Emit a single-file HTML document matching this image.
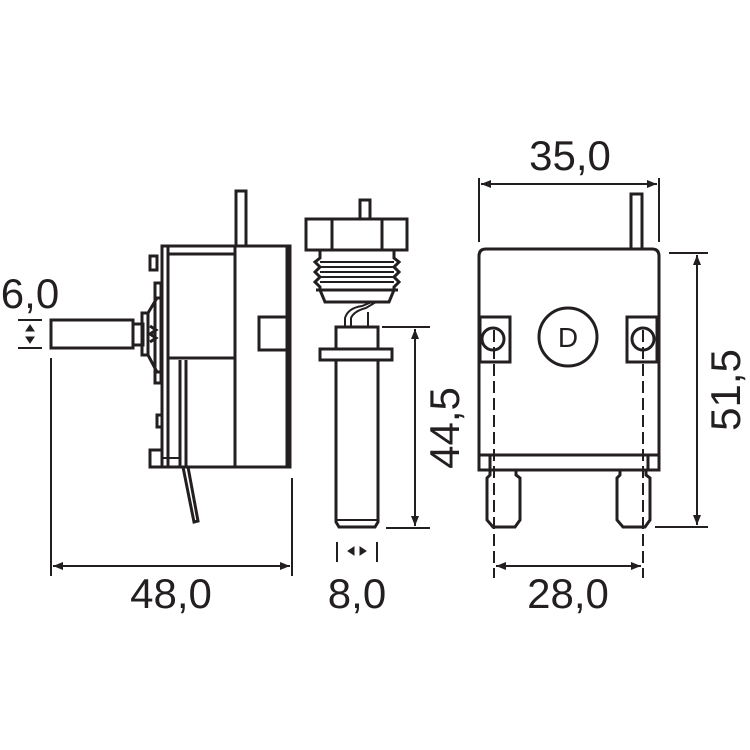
<!DOCTYPE html>
<html><head><meta charset="utf-8"><style>
html,body{margin:0;padding:0;background:#fff}
svg{display:block}
text{font-family:"Liberation Sans",sans-serif;font-size:42px;fill:#231f20}
</style></head><body>
<svg width="750" height="750" viewBox="0 0 750 750" xmlns="http://www.w3.org/2000/svg">
<defs>
<marker id="a" viewBox="0 0 10 10" refX="10" refY="5" markerWidth="10" markerHeight="10" markerUnits="userSpaceOnUse" orient="auto-start-reverse"><path d="M0,1 L10,5 L0,9 Z" fill="#231f20"/></marker>
</defs>
<g fill="none" stroke="#231f20" stroke-width="3" stroke-linejoin="miter">
<!-- LEFT VIEW -->
<rect x="236" y="191" width="10" height="55"/>
<rect x="162" y="246" width="128" height="221"/>
<line x1="287" y1="246" x2="287" y2="467"/>
<line x1="235" y1="246" x2="235" y2="467"/>
<line x1="168" y1="246" x2="168" y2="467"/>
<line x1="168" y1="254" x2="235" y2="254"/>
<line x1="168" y1="358" x2="235" y2="358"/>
<line x1="180" y1="360" x2="180" y2="467"/>
<line x1="186" y1="360" x2="186" y2="467"/>
<rect x="259" y="317" width="28" height="33"/>
<rect x="51" y="320" width="82" height="28"/>
<rect x="133" y="324" width="10" height="21"/>
<rect x="142" y="313" width="6" height="42"/>
<path d="M148,313 L157,298 L160,298 M148,355 L157,372 L160,372"/>
<rect x="155" y="283" width="6" height="100"/>
<rect x="150" y="256" width="7" height="14"/>
<rect x="150" y="450" width="12" height="17"/>
<line x1="162" y1="458" x2="180" y2="458" stroke-width="2"/>
<rect x="157" y="415" width="5" height="12"/>
<path d="M150,326 L156,330 L150,334 L156,338 L150,342" stroke-width="3"/>
<path d="M183,467 L194,522 L198,521 L188,467"/>
<line x1="51" y1="358" x2="51" y2="576" stroke-width="2"/>
<line x1="292" y1="478" x2="292" y2="576" stroke-width="2"/>
<line x1="53" y1="566" x2="290" y2="566" stroke-width="2" marker-start="url(#a)" marker-end="url(#a)"/>
<line x1="18" y1="320" x2="42" y2="320" stroke-width="2"/>
<line x1="18" y1="348" x2="42" y2="348" stroke-width="2"/>
<path d="M26,331 L30,325 L34,331 Z M26,337 L30,343 L34,337 Z" fill="#231f20" stroke-width="1"/>
<!-- MIDDLE VIEW -->
<rect x="360" y="200" width="10" height="19"/>
<rect x="306" y="219" width="101" height="31"/>
<line x1="332" y1="219" x2="332" y2="250"/>
<line x1="382" y1="219" x2="382" y2="250"/>
<path d="M320,250 L320,258 L315,262 L320,267 L315,272 L320,277 L315,282 L320,287 L320,290 L325,302 L389,302 L394,290 L394,287 L399,282 L394,277 L399,272 L394,267 L399,262 L394,258 L394,250"/>
<line x1="320" y1="262" x2="394" y2="262" stroke-width="2"/>
<line x1="320" y1="267" x2="394" y2="267" stroke-width="2"/>
<line x1="320" y1="272" x2="394" y2="272" stroke-width="2"/>
<line x1="320" y1="277" x2="394" y2="277" stroke-width="2"/>
<line x1="320" y1="282" x2="394" y2="282" stroke-width="2"/>
<line x1="316" y1="290" x2="398" y2="290"/>
<path d="M345,327 L345,318 Q348,308 362,306 L372,302 M351,327 L351,318 Q354,311 366,308 L376,302 M368,327 L368,312" stroke-width="2"/>
<rect x="336" y="327" width="42" height="22"/>
<rect x="320" y="349" width="72" height="11"/>
<path d="M336,360 L336,522 L339,527 L375,527 L378,522 L378,360"/>
<line x1="337" y1="520" x2="377" y2="520" stroke-width="2"/>
<line x1="382" y1="327" x2="430" y2="327" stroke-width="2"/>
<line x1="386" y1="528" x2="430" y2="528" stroke-width="2"/>
<line x1="415" y1="329" x2="415" y2="526" stroke-width="2" marker-start="url(#a)" marker-end="url(#a)"/>
<line x1="337" y1="542" x2="337" y2="562" stroke-width="2"/>
<line x1="377" y1="542" x2="377" y2="562" stroke-width="2"/>
<path d="M354,547 L348,551 L354,555 Z M360,547 L366,551 L360,555 Z" fill="#231f20" stroke-width="1"/>
<!-- RIGHT VIEW -->
<rect x="631" y="194" width="11" height="55"/>
<path d="M479,470 L479,256 Q479,249 486,249 L652,249 Q659,249 659,256 L659,470 Z"/>
<rect x="480" y="317" width="30" height="45"/>
<rect x="627" y="317" width="30" height="45"/>
<circle cx="493" cy="339" r="11"/>
<circle cx="643" cy="339" r="11"/>
<circle cx="568" cy="337" r="29"/>
<line x1="479" y1="455" x2="659" y2="455"/>
<line x1="490" y1="455" x2="490" y2="470"/>
<line x1="648" y1="455" x2="648" y2="470"/>
<path d="M490,470 L490,475 L487,478 L487,520 L493,527 L515,527 L520,520 L520,478 L516,475 L516,470"/>
<path d="M620,470 L620,475 L617,478 L617,520 L623,527 L645,527 L650,520 L650,478 L646,475 L646,470"/>
<line x1="494" y1="330" x2="494" y2="578" stroke-width="2" stroke-dasharray="12,5"/>
<line x1="643" y1="330" x2="643" y2="578" stroke-width="2" stroke-dasharray="12,5"/>
<line x1="496" y1="566" x2="641" y2="566" stroke-width="2" marker-start="url(#a)" marker-end="url(#a)"/>
<line x1="479" y1="178" x2="479" y2="242" stroke-width="2"/>
<line x1="659" y1="178" x2="659" y2="242" stroke-width="2"/>
<line x1="481" y1="184" x2="657" y2="184" stroke-width="2" marker-start="url(#a)" marker-end="url(#a)"/>
<line x1="669" y1="253" x2="708" y2="253" stroke-width="2"/>
<line x1="655" y1="527" x2="708" y2="527" stroke-width="2"/>
<line x1="697" y1="255" x2="697" y2="525" stroke-width="2" marker-start="url(#a)" marker-end="url(#a)"/>
</g>
<text x="568" y="347" style="font-size:28px" text-anchor="middle">D</text>
<text x="30" y="308" text-anchor="middle">6,0</text>
<text x="171" y="608" text-anchor="middle">48,0</text>
<text x="357" y="608" text-anchor="middle">8,0</text>
<text x="568" y="608" text-anchor="middle">28,0</text>
<text x="570" y="170" text-anchor="middle">35,0</text>
<text transform="translate(459,428) rotate(-90)" text-anchor="middle">44,5</text>
<text transform="translate(740,390) rotate(-90)" text-anchor="middle">51,5</text>
</svg>
</body></html>
